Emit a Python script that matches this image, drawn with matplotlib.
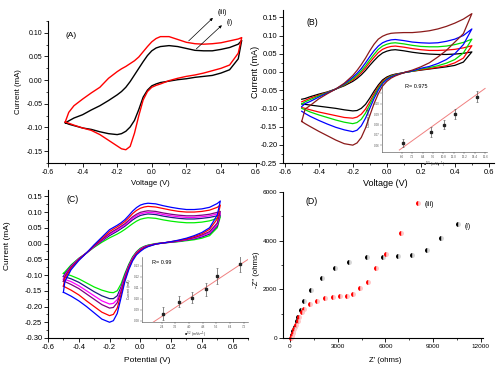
import numpy as np
import matplotlib
matplotlib.use('Agg')
import matplotlib.pyplot as plt
from matplotlib.ticker import AutoMinorLocator, MultipleLocator, FormatStrFormatter

plt.rcParams['font.family'] = ['Liberation Sans', 'DejaVu Sans']

W, H = 500, 371

# ---------------- panel A : CV of (i) and (iii) ----------------
a_v = [-0.5, -0.48, -0.45, -0.4, -0.35, -0.3, -0.25, -0.2, -0.175, -0.15, -0.125, -0.1, -0.075, -0.05,
       -0.025, 0.0, 0.025, 0.05, 0.1, 0.15, 0.2, 0.25, 0.3, 0.35, 0.4, 0.45, 0.5, 0.52]
a_i_up = [-0.090, -0.086, -0.080, -0.073, -0.063, -0.054, -0.043, -0.031, -0.024, -0.015, -0.003, 0.011,
          0.025, 0.039, 0.052, 0.062, 0.068, 0.071, 0.073, 0.071, 0.067, 0.063, 0.062, 0.062, 0.065, 0.069,
          0.076, 0.084]
a_i_dn = [-0.090, -0.093, -0.096, -0.101, -0.104, -0.109, -0.113, -0.115, -0.113, -0.108, -0.099, -0.085,
          -0.062, -0.036, -0.021, -0.012, -0.008, -0.005, -0.002, 0.001, 0.003, 0.006, 0.008, 0.010, 0.015,
          0.022, 0.045, 0.084]
a_iii_up = [-0.088, -0.068, -0.054, -0.040, -0.027, -0.015, 0.004, 0.018, 0.024, 0.029, 0.035, 0.041,
            0.049, 0.060, 0.071, 0.081, 0.088, 0.092, 0.092, 0.086, 0.080, 0.077, 0.076, 0.077, 0.079, 0.083,
            0.087, 0.090]
a_iii_dn = [-0.088, -0.091, -0.095, -0.101, -0.106, -0.115, -0.127, -0.139, -0.145, -0.147, -0.140, -0.112,
            -0.075, -0.042, -0.024, -0.015, -0.011, -0.008, -0.001, 0.004, 0.008, 0.011, 0.015, 0.020, 0.025,
            0.032, 0.057, 0.090]

# ---------------- panel B : CV at increasing scan rate ----------------
b_v = [-0.5, -0.48, -0.45, -0.4, -0.35, -0.3, -0.25, -0.2, -0.175, -0.15, -0.125, -0.1, -0.075, -0.05,
       -0.025, 0.0, 0.025, 0.05, 0.1, 0.15, 0.2, 0.25, 0.3, 0.35, 0.4, 0.45, 0.5]
b_colors = ['black', 'red', '#00dd00', 'blue', '#8b1a1a']
b_up = [
    [-0.075, -0.073, -0.068, -0.061, -0.055, -0.047, -0.038, -0.026, -0.018, -0.008, 0.004, 0.018, 0.031,
     0.043, 0.052, 0.057, 0.060, 0.061, 0.058, 0.054, 0.051, 0.049, 0.048, 0.048, 0.049, 0.051, 0.055],
    [-0.082, -0.078, -0.072, -0.064, -0.056, -0.047, -0.036, -0.022, -0.013, -0.002, 0.011, 0.026, 0.040,
     0.053, 0.062, 0.067, 0.070, 0.071, 0.068, 0.064, 0.061, 0.059, 0.059, 0.060, 0.062, 0.066, 0.072],
    [-0.088, -0.082, -0.076, -0.066, -0.057, -0.047, -0.035, -0.019, -0.009, 0.003, 0.017, 0.033, 0.048,
     0.062, 0.071, 0.076, 0.079, 0.080, 0.077, 0.073, 0.070, 0.069, 0.069, 0.071, 0.075, 0.081, 0.090],
    [-0.095, -0.087, -0.081, -0.069, -0.058, -0.047, -0.033, -0.015, -0.004, 0.009, 0.025, 0.042, 0.058,
     0.071, 0.080, 0.085, 0.088, 0.089, 0.086, 0.082, 0.080, 0.079, 0.080, 0.084, 0.090, 0.100, 0.118],
    [-0.136, -0.102, -0.092, -0.074, -0.060, -0.047, -0.031, -0.010, 0.004, 0.020, 0.038, 0.058, 0.076,
     0.090, 0.098, 0.103, 0.106, 0.107, 0.108, 0.108, 0.110, 0.113, 0.118, 0.125, 0.134, 0.145, 0.160],
]
b_dn = [
    [-0.088, -0.089, -0.091, -0.094, -0.097, -0.100, -0.104, -0.107, -0.106, -0.100, -0.089, -0.072, -0.053,
     -0.036, -0.022, -0.014, -0.009, -0.006, -0.002, 0.002, 0.005, 0.008, 0.011, 0.014, 0.018, 0.027, 0.055],
    [-0.098, -0.100, -0.104, -0.110, -0.115, -0.120, -0.125, -0.127, -0.124, -0.116, -0.102, -0.082, -0.060,
     -0.041, -0.026, -0.017, -0.011, -0.007, -0.002, 0.002, 0.006, 0.009, 0.013, 0.017, 0.025, 0.038, 0.072],
    [-0.100, -0.104, -0.110, -0.118, -0.125, -0.132, -0.138, -0.142, -0.139, -0.130, -0.113, -0.090, -0.066,
     -0.045, -0.029, -0.019, -0.012, -0.008, -0.002, 0.002, 0.008, 0.012, 0.017, 0.024, 0.034, 0.052, 0.090],
    [-0.108, -0.114, -0.122, -0.133, -0.143, -0.152, -0.159, -0.164, -0.160, -0.148, -0.127, -0.100, -0.073,
     -0.050, -0.032, -0.021, -0.014, -0.009, -0.002, 0.003, 0.010, 0.015, 0.023, 0.034, 0.050, 0.075, 0.118],
    [-0.136, -0.142, -0.150, -0.163, -0.175, -0.187, -0.197, -0.201, -0.195, -0.180, -0.154, -0.120, -0.087,
     -0.060, -0.039, -0.026, -0.017, -0.011, -0.002, 0.005, 0.014, 0.025, 0.041, 0.059, 0.082, 0.105, 0.160],
]
b_ins_x = [6.19, 9.37, 10.83, 12.17, 14.63]
b_ins_y = [0.062, 0.073, 0.080, 0.090, 0.107]
b_ins_err = [0.0037, 0.005, 0.004, 0.005, 0.0055]
b_fit_x = [5.73, 15.58]
b_fit_y = [0.0555, 0.1148]

# ---------------- panel C ----------------
c_v = [-0.5, -0.49, -0.45, -0.4, -0.35, -0.3, -0.25, -0.2, -0.175, -0.15, -0.125, -0.1, -0.075, -0.05,
       -0.025, 0.0, 0.025, 0.05, 0.1, 0.15, 0.2, 0.25, 0.3, 0.35, 0.4, 0.45, 0.5, 0.52]
c_colors = ['#00ee00', '#1a1a80', '#ff00ff', '#800080', 'red', 'blue']
c_up = [
    [-0.095, -0.090, -0.068, -0.047, -0.030, -0.012, 0.004, 0.018, 0.024, 0.030, 0.037, 0.045, 0.054, 0.063,
     0.071, 0.077, 0.080, 0.082, 0.080, 0.075, 0.071, 0.068, 0.066, 0.066, 0.068, 0.072, 0.080, 0.085],
    [-0.105, -0.096, -0.071, -0.048, -0.030, -0.010, 0.008, 0.025, 0.032, 0.039, 0.047, 0.055, 0.065, 0.075,
     0.083, 0.089, 0.092, 0.094, 0.092, 0.087, 0.083, 0.080, 0.078, 0.078, 0.080, 0.083, 0.088, 0.091],
    [-0.113, -0.100, -0.073, -0.049, -0.030, -0.009, 0.010, 0.029, 0.036, 0.043, 0.051, 0.059, 0.069, 0.080,
     0.088, 0.094, 0.097, 0.099, 0.097, 0.092, 0.088, 0.085, 0.083, 0.083, 0.085, 0.088, 0.094, 0.097],
    [-0.120, -0.104, -0.075, -0.050, -0.030, -0.008, 0.012, 0.032, 0.040, 0.047, 0.055, 0.063, 0.074, 0.085,
     0.093, 0.099, 0.102, 0.104, 0.102, 0.097, 0.093, 0.090, 0.088, 0.088, 0.090, 0.093, 0.099, 0.102],
    [-0.135, -0.111, -0.079, -0.052, -0.030, -0.006, 0.016, 0.038, 0.046, 0.053, 0.061, 0.070, 0.082, 0.095,
     0.105, 0.112, 0.116, 0.118, 0.116, 0.111, 0.106, 0.102, 0.100, 0.100, 0.102, 0.106, 0.115, 0.122],
    [-0.155, -0.120, -0.083, -0.054, -0.030, -0.004, 0.020, 0.044, 0.051, 0.058, 0.066, 0.076, 0.089, 0.103,
     0.114, 0.122, 0.126, 0.128, 0.126, 0.120, 0.115, 0.111, 0.108, 0.108, 0.110, 0.115, 0.127, 0.135],
]
c_dn = [
    [-0.095, -0.096, -0.102, -0.112, -0.125, -0.138, -0.148, -0.155, -0.156, -0.150, -0.128, -0.095, -0.066,
     -0.042, -0.026, -0.015, -0.009, -0.005, 0.000, 0.002, 0.004, 0.006, 0.009, 0.012, 0.017, 0.025, 0.050, 0.085],
    [-0.105, -0.106, -0.112, -0.123, -0.138, -0.153, -0.166, -0.175, -0.175, -0.166, -0.138, -0.100, -0.069,
     -0.045, -0.028, -0.017, -0.010, -0.006, -0.001, 0.002, 0.004, 0.007, 0.011, 0.015, 0.021, 0.030, 0.055, 0.091],
    [-0.113, -0.114, -0.121, -0.134, -0.150, -0.166, -0.182, -0.192, -0.190, -0.178, -0.145, -0.105, -0.072,
     -0.047, -0.029, -0.018, -0.011, -0.007, -0.001, 0.002, 0.005, 0.008, 0.012, 0.017, 0.024, 0.034, 0.060, 0.097],
    [-0.120, -0.121, -0.130, -0.143, -0.160, -0.177, -0.194, -0.205, -0.203, -0.188, -0.152, -0.110, -0.075,
     -0.050, -0.031, -0.020, -0.012, -0.008, -0.001, 0.002, 0.005, 0.009, 0.013, 0.019, 0.027, 0.038, 0.065, 0.102],
    [-0.135, -0.138, -0.148, -0.163, -0.182, -0.200, -0.218, -0.229, -0.225, -0.205, -0.162, -0.115, -0.079,
     -0.052, -0.033, -0.022, -0.014, -0.009, -0.002, 0.002, 0.006, 0.010, 0.015, 0.022, 0.031, 0.045, 0.078, 0.122],
    [-0.155, -0.157, -0.167, -0.182, -0.200, -0.220, -0.240, -0.250, -0.245, -0.222, -0.172, -0.120, -0.083,
     -0.055, -0.036, -0.025, -0.016, -0.010, -0.002, 0.002, 0.006, 0.011, 0.017, 0.025, 0.035, 0.050, 0.090, 0.135],
]
c_ins_x = [2.50, 3.41, 4.20, 4.98, 5.66, 6.99]
c_ins_y = [0.0867, 0.0976, 0.1012, 0.1088, 0.1209, 0.1318]
c_ins_err = [0.0058, 0.0053, 0.005, 0.0058, 0.007, 0.0075]
c_fit_x = [1.87, 7.47]
c_fit_y = [0.0785, 0.136]

# ---------------- panel D : Nyquist ----------------
d_i_x = [100, 209, 314, 419, 523, 670, 900, 1319, 1990, 2827, 3728, 4817, 5864, 6806, 7686, 8586, 9487, 10576]
d_i_y = [120, 300, 466, 712, 877, 1151, 1520, 1973, 2454, 2857, 3118, 3338, 3338, 3379, 3420, 3626, 4121, 4670]
d_iii_x = [60, 130, 209, 272, 377, 482, 586, 733, 900, 1240, 1675, 2170, 2681, 3141, 3560, 3937, 4398,
           4921, 5403, 6010, 6974, 8021]
d_iii_y = [10, 80, 192, 356, 534, 712, 877, 1083, 1200, 1380, 1536, 1640, 1690, 1717, 1744, 1827, 2047,
           2308, 2885, 3434, 4327, 5563]


def add_ax(fig, left, top, right, bottom):
    return fig.add_axes([left / W, 1 - bottom / H, (right - left) / W, (bottom - top) / H])


def style(ax, fs):
    for s in ['top', 'right']:
        ax.spines[s].set_visible(False)
    for s in ['left', 'bottom']:
        ax.spines[s].set_linewidth(0.8)
    ax.xaxis.set_minor_locator(AutoMinorLocator(2))
    ax.yaxis.set_minor_locator(AutoMinorLocator(2))
    ax.tick_params(which='major', direction='out', length=2.6, width=0.6, labelsize=fs, pad=1.5)
    ax.tick_params(which='minor', direction='out', length=1.5, width=0.5)


def labels(ax, xl, yl, xpos, ypos, fs):
    ax.set_xlabel(xl, fontsize=fs, va='center', ha='center')
    ax.set_ylabel(yl, fontsize=fs, va='center', ha='center')
    ax.xaxis.set_label_coords(xpos[0] / W, 1 - xpos[1] / H, transform=fig.transFigure)
    ax.yaxis.set_label_coords(ypos[0] / W, 1 - ypos[1] / H, transform=fig.transFigure)


def cv(ax, v, up, dn, color, lw):
    v = np.asarray(v)
    x = np.concatenate([v, v[::-1]])
    y = np.concatenate([np.asarray(up), np.asarray(dn)[::-1]])
    ax.plot(x, y, color=color, lw=lw, solid_joinstyle='round')


def inset(ax, xs, ys, err, fx, fy, xt, yt, rtext, rpos):
    for s in ['top', 'right']:
        ax.spines[s].set_visible(False)
    for s in ['left', 'bottom']:
        ax.spines[s].set_linewidth(0.4)
        ax.spines[s].set_color('#444444')
    ax.patch.set_alpha(0)
    ax.plot(fx, fy, color='#f08080', lw=0.7)
    ax.errorbar(xs, ys, yerr=err, fmt='s', ms=1.6, color='#222222', ecolor='#555555',
                elinewidth=0.5, capsize=1.0, capthick=0.4)
    ax.set_xticks(xt)
    ax.set_yticks(yt)
    ax.xaxis.set_major_formatter(FormatStrFormatter('%.1f'))
    ax.yaxis.set_major_formatter(FormatStrFormatter('%.2f'))
    ax.tick_params(direction='out', length=1.2, width=0.3, labelsize=2.2, pad=0.8, colors='#555555')
    ax.set_xlabel('\u25a0$^{1/2}$ (mVs$^{-1}$)', fontsize=2.6, labelpad=1, color='#333333')
    ax.set_ylabel('Current (mA)', fontsize=2.4, labelpad=1.5, color='#333333')
    ax.text(rpos[0], rpos[1], rtext, transform=ax.transAxes, fontsize=4, va='center', ha='left')


fig = plt.figure(figsize=(5, 3.71), dpi=100)

# ---- A ----
axA = add_ax(fig, 48, 21, 259, 163)
cv(axA, a_v, a_i_up, a_i_dn, 'black', 1.0)
cv(axA, a_v, a_iii_up, a_iii_dn, 'red', 1.0)
axA.set_xlim(-0.6, 0.62)
axA.set_ylim(-0.175, 0.125)
axA.xaxis.set_major_locator(MultipleLocator(0.2))
axA.yaxis.set_major_locator(MultipleLocator(0.05))
axA.xaxis.set_major_formatter(FormatStrFormatter('%.1f'))
axA.yaxis.set_major_formatter(FormatStrFormatter('%.2f'))
style(axA, 5)
labels(axA, 'Voltage (V)', 'Current (mA)', (150, 183), (19, 92), 5.6)
axA.text(-0.5, 0.095, '(A)', fontsize=6, ha='left', va='center')
axA.annotate('', xy=(0.365, 0.1356), xytext=(0.202, 0.079), annotation_clip=False,
             arrowprops=dict(arrowstyle='-|>', lw=0.5, color='black', mutation_scale=4))
axA.annotate('', xy=(0.417, 0.120), xytext=(0.246, 0.0622), annotation_clip=False,
             arrowprops=dict(arrowstyle='-|>', lw=0.5, color='black', mutation_scale=4))
axA.text(0.382, 0.143, '(iii)', fontsize=5, ha='left', va='center', clip_on=False)
axA.text(0.435, 0.122, '(i)', fontsize=5, ha='left', va='center', clip_on=False)

# ---- B ----
axB = add_ax(fig, 283, 10, 494, 163)
for col, up, dn in zip(b_colors, b_up, b_dn):
    cv(axB, b_v, up, dn, col, 0.9)
axB.set_xlim(-0.61, 0.63)
axB.set_ylim(-0.25, 0.17)
axB.xaxis.set_major_locator(MultipleLocator(0.2))
axB.yaxis.set_major_locator(MultipleLocator(0.05))
axB.xaxis.set_major_formatter(FormatStrFormatter('%.1f'))
axB.yaxis.set_major_formatter(FormatStrFormatter('%.2f'))
style(axB, 5.5)
labels(axB, 'Voltage (V)', 'Current (mA)', (385, 184), (255, 72), 6.5)
axB.text(-0.47, 0.135, '(B)', fontsize=6.3, ha='left', va='center')

insB = add_ax(fig, 382, 82, 487, 152)
inset(insB, b_ins_x, b_ins_y, b_ins_err, b_fit_x, b_fit_y,
      np.arange(6.0, 15.7, 1.2), [0.06, 0.07, 0.08, 0.09, 0.10, 0.11], 'R= 0.975', (0.22, 0.93))
insB.set_xlim(3.74, 15.8)
insB.set_ylim(0.0536, 0.121)

# ---- C ----
axC = add_ax(fig, 48, 190, 248, 338)
for col, up, dn in zip(c_colors, c_up, c_dn):
    cv(axC, c_v, up, dn, col, 0.9)
axC.set_xlim(-0.6, 0.7)
axC.set_ylim(-0.30, 0.17)
axC.xaxis.set_major_locator(MultipleLocator(0.2))
axC.yaxis.set_major_locator(MultipleLocator(0.05))
axC.xaxis.set_major_formatter(FormatStrFormatter('%.1f'))
axC.yaxis.set_major_formatter(FormatStrFormatter('%.2f'))
style(axC, 5.5)
labels(axC, 'Potential (V)', 'Current (mA)', (147, 360), (8, 246), 6.0)
axC.text(-0.48, 0.14, '(C)', fontsize=6.3, ha='left', va='center')

insC = add_ax(fig, 142, 257, 248, 322)
inset(insC, c_ins_x, c_ins_y, c_ins_err, c_fit_x, c_fit_y,
      [2.4, 3.2, 4.0, 4.8, 5.6, 6.4, 7.2], [0.08, 0.09, 0.10, 0.11, 0.12, 0.13], 'R= 0.99', (0.09, 0.92))
insC.set_xlim(1.25, 7.45)
insC.set_ylim(0.079, 0.138)

# ---- D ----
axD = add_ax(fig, 283, 192, 483, 338)
axD.plot(d_i_x, d_i_y, 'o', ms=3.6, fillstyle='left', markerfacecolor='black',
         markerfacecoloralt='#d8d8d8', markeredgewidth=0, clip_on=False)
axD.plot(d_iii_x, d_iii_y, 'o', ms=3.6, fillstyle='left', markerfacecolor='red',
         markerfacecoloralt='#ffc8c8', markeredgewidth=0, clip_on=False)
axD.set_xlim(-440, 12130)
axD.set_ylim(0, 6000)
axD.xaxis.set_major_locator(MultipleLocator(3000))
axD.yaxis.set_major_locator(MultipleLocator(2000))
style(axD, 4.6)
labels(axD, "Z' (ohms)", "-Z'' (ohms)", (385, 360), (257, 270), 5.6)
axD.text(1000, 5600, '(D)', fontsize=6.3, ha='left', va='center')
axD.text(8450, 5480, '(iii)', fontsize=5, ha='left', va='center')
axD.text(11000, 4600, '(i)', fontsize=5, ha='left', va='center')

fig.savefig('out.png', dpi=100)
